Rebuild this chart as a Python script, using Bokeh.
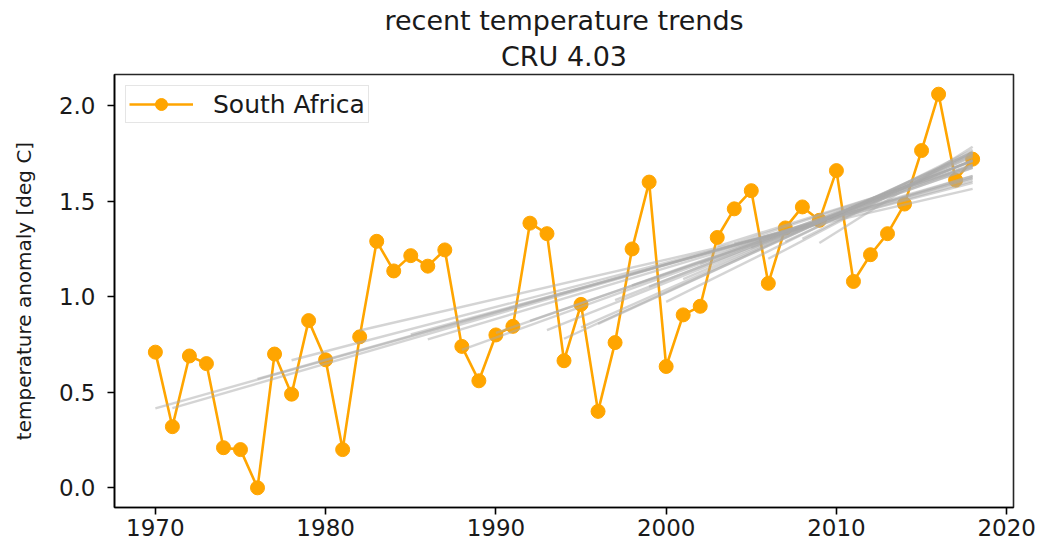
import numpy as np
from bokeh.plotting import figure
from bokeh.models import Title, SingleIntervalTicker, PrintfTickFormatter, Range1d
from bokeh.embed import file_html
from bokeh.resources import INLINE

# Annual temperature anomaly for South Africa (CRU 4.03), deg C
years = list(range(1970, 2019))
anomaly = [0.71, 0.32, 0.69, 0.65, 0.21, 0.20, 0.00, 0.70, 0.49, 0.875,
           0.67, 0.20, 0.79, 1.29, 1.135, 1.215, 1.16, 1.245, 0.74, 0.56,
           0.80, 0.845, 1.385, 1.33, 0.665, 0.96, 0.40, 0.76, 1.25, 1.60,
           0.635, 0.905, 0.95, 1.31, 1.46, 1.555, 1.07, 1.36, 1.47, 1.40,
           1.66, 1.08, 1.22, 1.33, 1.485, 1.765, 2.06, 1.61, 1.72]

# First years of the linear trends, each fitted up to the last year
trend_starts = [1970, 1971, 1976, 1978, 1982, 1985, 1986, 1988, 1990, 1992,
                1993, 1994, 1995, 1996, 1997, 1998, 1999, 2000, 2001, 2002,
                2003, 2004, 2005, 2006, 2007, 2008, 2009]

title_main = "recent temperature trends"
title_sub = "CRU 4.03"
series_name = "South Africa"
y_label = "temperature anomaly [deg C]"

FONT = "DejaVu Sans"
TEXT = "#1a1a1a"

yr = np.array(years, dtype=float)
an = np.array(anomaly, dtype=float)

trend_xs, trend_ys = [], []
for s in trend_starts:
    m = yr >= s
    slope, icpt = np.polyfit(yr[m], an[m], 1)
    x_end = [float(s), float(years[-1])]
    trend_xs.append(x_end)
    trend_ys.append([slope * x + icpt for x in x_end])

p = figure(width=1038, height=543, output_backend="svg", toolbar_location=None,
           x_range=Range1d(1967.6, 2020.4), y_range=Range1d(-0.103, 2.163),
           min_border_left=114, min_border_right=25, min_border_top=74,
           min_border_bottom=36, background_fill_color="white",
           border_fill_color="white")

# subtitle first (nearest the frame), main title above it
p.add_layout(Title(text=title_sub, align="center", text_font=FONT,
                   text_font_size="27px", text_font_style="normal",
                   text_color=TEXT, standoff=6), "above")
p.add_layout(Title(text=title_main, align="center", text_font=FONT,
                   text_font_size="27px", text_font_style="normal",
                   text_color=TEXT, standoff=0), "above")

p.xgrid.visible = False
p.ygrid.visible = False
p.outline_line_color = "black"
p.outline_line_width = 1.6
p.outline_line_alpha = 0.85

p.xaxis.ticker = SingleIntervalTicker(interval=10, num_minor_ticks=0)
p.yaxis.ticker = SingleIntervalTicker(interval=0.5, num_minor_ticks=0)
p.yaxis.formatter = PrintfTickFormatter(format="%.1f")
for ax in (p.xaxis, p.yaxis):
    ax.axis_line_color = "black"
    ax.axis_line_width = 1.6
    ax.major_tick_line_color = "black"
    ax.major_tick_line_width = 1.6
    ax.major_tick_out = 7
    ax.major_tick_in = 0
    ax.minor_tick_line_color = None
    ax.major_label_text_font = FONT
    ax.major_label_text_font_size = "23px"
    ax.major_label_text_color = TEXT
p.xaxis.major_label_standoff = 4
p.yaxis.major_label_standoff = 12
p.yaxis.axis_label = y_label
p.yaxis.axis_label_text_font = FONT
p.yaxis.axis_label_text_font_size = "20px"
p.yaxis.axis_label_text_font_style = "normal"
p.yaxis.axis_label_text_color = TEXT
p.yaxis.axis_label_standoff = 20

p.line(years, anomaly, color="#FFA500", line_width=2.6, legend_label=series_name)
p.scatter(years, anomaly, size=14, fill_color="#FFA500", line_color="#FFA500",
          legend_label=series_name)

p.multi_line(trend_xs, trend_ys, line_color="#a9a9a9", line_alpha=0.5,
             line_width=2.4)

lg = p.legend[0]
lg.location = "top_left"
lg.margin = 11
lg.padding = 3
lg.glyph_width = 64
lg.glyph_height = 30
lg.label_standoff = 20
lg.label_text_font = FONT
lg.label_text_font_size = "25px"
lg.label_text_color = TEXT
lg.border_line_color = "#cccccc"
lg.border_line_width = 1.2
lg.background_fill_alpha = 0.8

open("out.html", "w").write(file_html(p, INLINE))
